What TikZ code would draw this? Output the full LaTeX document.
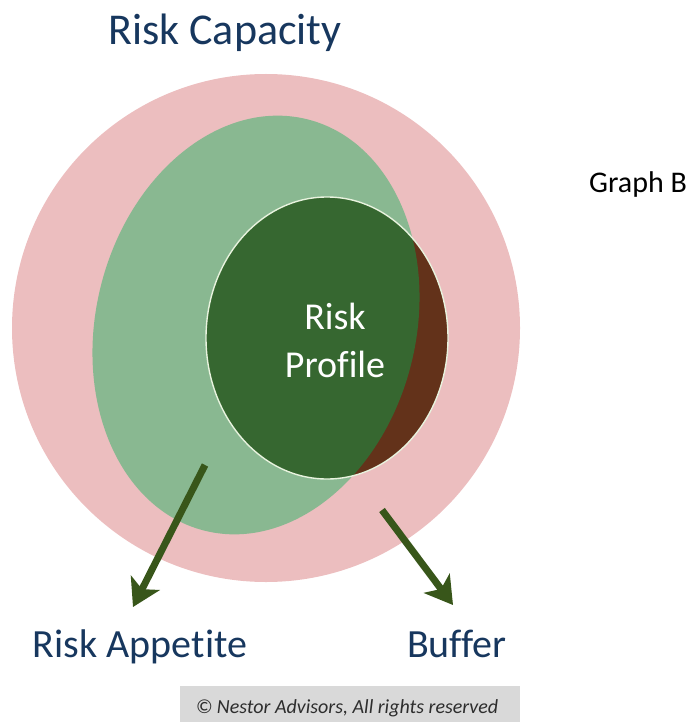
\documentclass[tikz,border=0pt]{standalone}
\usepackage{fontspec}
\setmainfont{Carlito}[Ligatures={NoCommon,NoContextual}]
\usetikzlibrary{arrows.meta}
\definecolor{capacity}{RGB}{236,190,191}
\definecolor{appetite}{RGB}{137,184,145}
\definecolor{profile}{RGB}{54,103,48}
\definecolor{buffercol}{RGB}{99,50,26}
\definecolor{rimcol}{RGB}{232,243,222}
\definecolor{arrowcol}{RGB}{56,86,26}
\definecolor{titleblue}{RGB}{23,55,94}
\definecolor{copybg}{RGB}{217,217,217}
\definecolor{copytext}{RGB}{45,45,45}
\tikzset{
  bigarrow/.style={draw=arrowcol, line width=7pt, -{Stealth[length=27pt,width=32pt,inset=7pt]}},
  bluelabel/.style={text=titleblue, anchor=base, inner sep=0pt},
  profiletext/.style={text=white, anchor=base, inner sep=0pt, font=\fontsize{38}{46}\selectfont}
}
\begin{document}
\begin{tikzpicture}[x=1pt,y=1pt]
\useasboundingbox (0,0) rectangle (688,-722);
% Risk capacity circle
\fill[capacity] (266,-328) circle (254);
% Risk appetite ellipse
\fill[appetite, rotate around={-14:(256,-325)}] (256,-325) ellipse [x radius=160, y radius=212];
% Risk profile (buffer part)
\fill[buffercol] (327,-338) ellipse [x radius=121, y radius=141];
\begin{scope}
  \clip (327,-338) ellipse [x radius=121, y radius=141];
  \fill[profile, rotate around={-14:(256,-325)}] (256,-325) ellipse [x radius=160, y radius=212];
\end{scope}
\draw[rimcol, line width=1.4pt] (327,-338) ellipse [x radius=121, y radius=141];
% texts
\node[bluelabel, font=\fontsize{44}{52}\selectfont] (cap) at (225,-45) {Risk Capacity};
\node[profiletext] (p1) at (335,-329) {Risk};
\node[profiletext] (p2) at (335,-377) {Profile};
\node[anchor=base, inner sep=0pt, font=\fontsize{30}{35}\selectfont] (gb) at (638,-193) {Graph B};
\node[bluelabel, font=\fontsize{40}{48}\selectfont] (app) at (140,-657) {Risk Appetite};
\node[bluelabel, font=\fontsize{40}{48}\selectfont] (buf) at (457,-657) {Buffer};
% arrows
\coordinate (a1s) at (205,-465);
\coordinate (a1e) at (133,-607);
\coordinate (a2s) at (382,-510);
\coordinate (a2e) at (453,-605);
\draw[bigarrow] (a1s) -- (a1e);
\draw[bigarrow] (a2s) -- (a2e);
% copyright
\fill[copybg] (180,-686) rectangle (520,-722);
\node[anchor=base, inner sep=0pt, text=copytext, font=\fontsize{20}{24}\selectfont\itshape] (copy) at (347,-713) {© Nestor Advisors, All rights reserved};
\end{tikzpicture}
\end{document}
